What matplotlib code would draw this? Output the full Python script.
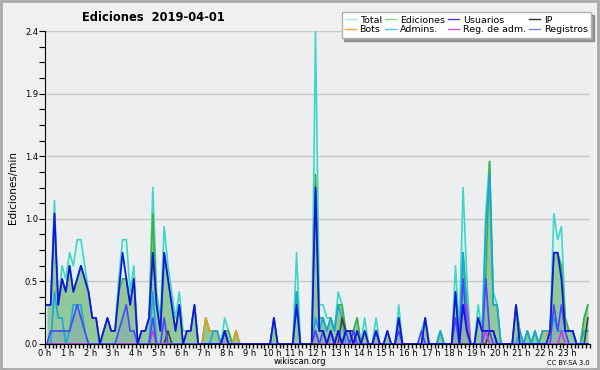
import numpy as np
import matplotlib
matplotlib.use('Agg')
import matplotlib.pyplot as plt
from matplotlib.lines import Line2D
from matplotlib.patches import Rectangle

# edits per minute, one value per 10 minute slot (6 per hour)
total = [.3,.3,1.1,.3,.6,.5, .7,.6,.8,.8,.6,.4, .2,.2,0,.1,.2,.1, .1,.5,.8,.8,.4,.6,
         0,.1,.1,.2,1.2,.4, .2,.9,.6,.4,.2,.4, .1,.1,.1,.3,0,0, .2,.1,.1,.1,0,.2,
         .1,0,.1,0,0,0, 0,0,0,0,0,0, .2,0,0,0,0,0, .7,0,0,0,0,2.4,
         .3,.3,.2,.2,.1,.4, .3,.1,.1,.1,.2,0, .2,0,0,.2,0,0, .1,0,0,.3,0,0,
         0,0,0,.1,.2,0, 0,0,.1,0,0,0, .6,.1,1.2,.5,0,0, .3,.1,1.0,1.4,.4,.3,
         0,0,0,0,.3,.1, 0,.1,0,.1,0,.1, .1,.1,1.0,.8,.9,.2, .1,.1,0,0,.2,.3]
ediciones = [.3,.3,1.0,.3,.5,.4, .6,.4,.5,.6,.5,.4, .2,.2,0,.1,.2,.1, .1,.4,.5,.5,.3,.5,
             0,.1,.1,.2,1.0,.3, .1,.7,.5,.3,.1,.3, 0,.1,.1,.3,0,0, .2,.1,.1,.1,0,.1,
             .1,0,.1,0,0,0, 0,0,0,0,0,0, .2,0,0,0,0,0, .4,0,0,0,0,1.3,
             .2,.2,.1,.2,.1,.3, .3,.1,.1,.1,.2,0, .1,0,0,.1,0,0, .1,0,0,.2,0,0,
             0,0,0,0,.2,0, 0,0,.1,0,0,0, .4,0,.7,.3,0,0, .2,.1,.5,1.4,.3,.3,
             0,0,0,0,.3,.1, 0,.1,0,.1,0,.1, .1,.1,.7,.7,.6,.2, .1,.1,0,0,.2,.3]
usuarios = [.3,.3,1.0,.3,.5,.4, .6,.4,.5,.6,.5,.4, .2,.2,0,.1,.2,.1, .1,.4,.7,.5,.3,.5,
            0,.1,.1,.2,.7,.3, .1,.7,.5,.3,.1,.3, 0,.1,.1,.3,0,0, 0,0,0,0,0,.1,
            0,0,0,0,0,0, 0,0,0,0,0,0, .2,0,0,0,0,0, .3,0,0,0,0,1.2,
            .1,.1,0,.1,0,.1, 0,.1,.1,0,.1,0, .1,0,0,.1,0,0, .1,0,0,.2,0,0,
            0,0,0,0,.2,0, 0,0,0,0,0,0, .4,0,.3,.1,0,0, .2,.1,.1,.1,.1,0,
            0,0,0,0,.3,0, 0,0,0,0,0,0, 0,.1,.7,.7,.5,.1, .1,.1,0,0,0,0]
ip = [0,0,0,0,0,0, 0,0,0,0,0,0, 0,0,0,0,0,0, 0,0,0,0,0,0,
      0,0,0,0,0,0, 0,0,.1,0,0,0, 0,0,0,0,0,0, 0,0,0,0,0,0,
      0,0,0,0,0,0, 0,0,0,0,0,0, 0,0,0,0,0,0, 0,0,0,0,0,0,
      0,0,0,0,0,0, .2,.1,.1,.1,0,0, 0,0,0,0,0,0, 0,0,0,0,0,0,
      0,0,0,0,0,0, 0,0,0,0,0,0, 0,0,0,0,0,0, 0,0,0,.1,.1,0,
      0,0,0,0,0,0, 0,0,0,0,0,0, 0,0,0,0,0,0, 0,0,0,0,0,.2]
bots = [0,0,0,0,0,0, 0,0,0,0,0,0, 0,0,0,0,0,0, 0,0,0,0,0,0,
        0,0,0,0,0,0, 0,0,0,0,0,0, 0,0,0,0,0,0, .2,.1,.1,.1,0,0,
        0,0,.1,0,0,0, 0,0,0,0,0,0, 0,0,0,0,0,0, 0,0,0,0,0,0,
        0,0,0,0,0,0, 0,0,0,0,0,0, 0,0,0,0,0,0, 0,0,0,0,0,0,
        0,0,0,0,0,0, 0,0,0,0,0,0, 0,0,0,0,0,0, 0,0,0,0,0,0,
        0,0,0,0,0,0, 0,0,0,0,0,.1, .1,0,0,0,0,0, 0,0,0,0,0,0]
admins = [0,0,.4,.2,.2,0, .1,.3,.3,.3,.1,0, 0,0,0,0,0,0, 0,0,0,0,0,0,
          0,0,0,0,.4,0, 0,0,0,0,0,0, 0,0,0,0,0,0, 0,0,.1,.1,0,0,
          0,0,0,0,0,0, 0,0,0,0,0,0, 0,0,0,0,0,0, .4,0,0,0,0,.2,
          .1,.2,.1,.2,.1,.3, .2,0,0,0,0,0, 0,0,0,0,0,0, 0,0,0,0,0,0,
          0,0,0,0,0,0, 0,0,.1,0,0,0, .2,0,.7,.2,0,0, 0,0,.9,1.3,.3,.3,
          0,0,0,0,0,.1, 0,.1,0,.1,0,.1, .1,.1,.2,.1,.1,.1, .1,.1,0,0,.1,.1]
reg_adm = [0,0,0,0,0,0, 0,0,0,0,0,0, 0,0,0,0,0,0, 0,0,0,0,0,0,
           0,0,0,0,.1,0, 0,0,0,0,0,0, 0,0,0,0,0,0, 0,0,0,0,0,0,
           0,0,0,0,0,0, 0,0,0,0,0,0, 0,0,0,0,0,0, 0,0,0,0,0,.1,
           0,0,0,0,0,0, 0,0,0,0,0,0, 0,0,0,0,0,0, 0,0,0,0,0,0,
           0,0,0,0,0,0, 0,0,0,0,0,0, 0,0,.3,.3,0,0, 0,0,.1,0,0,0,
           0,0,0,0,0,0, 0,0,0,0,0,0, 0,0,0,0,.1,0, 0,0,0,0,0,0]
registros = [0,.1,.1,.1,.1,.1, .1,.2,.3,.2,.1,0, 0,0,0,0,0,0, 0,.1,.2,.3,.1,.1,
             0,0,0,0,.2,0, 0,.2,0,0,0,0, 0,0,0,0,0,0, 0,0,0,0,0,.1,
             0,0,0,0,0,0, 0,0,0,0,0,0, 0,0,0,0,0,0, 0,0,0,0,0,.1,
             0,.1,0,.1,0,.1, 0,.1,0,.1,0,0, 0,0,0,.1,0,0, 0,0,0,.1,0,0,
             0,0,0,.1,0,0, 0,0,0,0,0,0, .2,0,.5,.1,0,0, 0,0,.5,.1,0,0,
             0,0,0,0,0,0, 0,0,0,0,0,0, 0,0,.3,.1,.3,.1, 0,0,0,0,0,0]

hours = (np.arange(len(total)) + 0.5) / 6.0
y_ticks = [0, 0.48, 0.96, 1.44, 1.92, 2.4]
y_labels = ['0.0', '0.5', '1.0', '1.4', '1.9', '2.4']

fig = plt.figure(figsize=(6, 3.7), dpi=100, facecolor='#f0f0f0')
fig.patches.append(Rectangle((0.002, 0.003), 0.995, 0.993, transform=fig.transFigure,
                             fill=False, edgecolor='#a8a8a8', lw=2))
ax = fig.add_axes([0.075, 0.0703, 0.908, 0.8457])
ax.set_facecolor('#eceef0')

ax.fill_between(hours, total, color='#dcf3ee', lw=0)
ax.plot(hours, total, color='#3ed6c6', lw=1.2)
ax.fill_between(hours, ediciones, color='#93c99a', lw=0)
ax.plot(hours, ediciones, color='#3cb043', lw=1.2)
ax.fill_between(hours, registros, color='#5050f0', alpha=0.15, lw=0)
ax.plot(hours, bots, color='#e8a020', lw=1.2)
ax.plot(hours, admins, color='#18a8d8', lw=1.2)
ax.plot(hours, ip, color='#404040', lw=1.2)
ax.plot(hours, reg_adm, color='#c040e0', lw=1.2)
ax.plot(hours, registros, color='#4848f8', lw=1.2)
ax.plot(hours, usuarios, color='#1515e0', lw=1.3)

ax.set_xlim(0, 24)
ax.set_ylim(0, 2.4)
for s in ['top', 'right']:
    ax.spines[s].set_visible(False)
ax.spines['left'].set_color('black')
ax.spines['bottom'].set_color('black')
ax.spines['bottom'].set_zorder(5)

ax.set_yticks(y_ticks)
ax.set_yticklabels(y_labels, fontsize=6)
ax.set_yticks(np.arange(0, 2.41, 0.12), minor=True)
ax.tick_params(axis='y', which='both', length=4, width=0.8, pad=1)
ax.grid(axis='y', which='major', color='#c8c8c8', lw=1)
ax.set_axisbelow(True)

ax.set_xticks(np.arange(0, 24.01, 1 / 6), minor=True)
ax.set_xticks(range(24))
ax.set_xticklabels(['%d h' % h for h in range(24)], fontsize=6)
ax.tick_params(axis='x', which='both', length=3, width=1, pad=0.5)

ax.set_ylabel('Ediciones/min', fontsize=7.5, labelpad=5)
fig.text(0.255, 0.953, 'Ediciones  2019-04-01', fontsize=8.3, fontweight='bold',
         ha='center', va='center')
fig.text(0.5, 0.022, 'wikiscan.org', fontsize=6, ha='center', va='center')
fig.text(0.982, 0.019, 'CC BY-SA 3.0', fontsize=4.8, ha='right', va='center')

names = ['Total', 'Bots', 'Ediciones', 'Admins.', 'Usuarios', 'Reg. de adm.', 'IP', 'Registros']
cols = ['#a8e6e2', '#f0a040', '#88d488', '#50c4e0', '#4040e0', '#d050e0', '#303030', '#8080f0']
handles = [Line2D([], [], color=c, lw=1) for c in cols]
leg = fig.legend(handles, names, ncol=4, loc='upper right', bbox_to_anchor=(0.985, 0.967),
                 fontsize=6.8, frameon=True, fancybox=False, shadow=True,
                 handlelength=1.2, handletextpad=0.35, columnspacing=0.35,
                 borderpad=0.35, labelspacing=0.1, borderaxespad=0)
leg.get_frame().set_edgecolor('#b0b0b0')
leg.get_frame().set_linewidth(1)

fig.savefig('out.png', dpi=100, facecolor=fig.get_facecolor())
